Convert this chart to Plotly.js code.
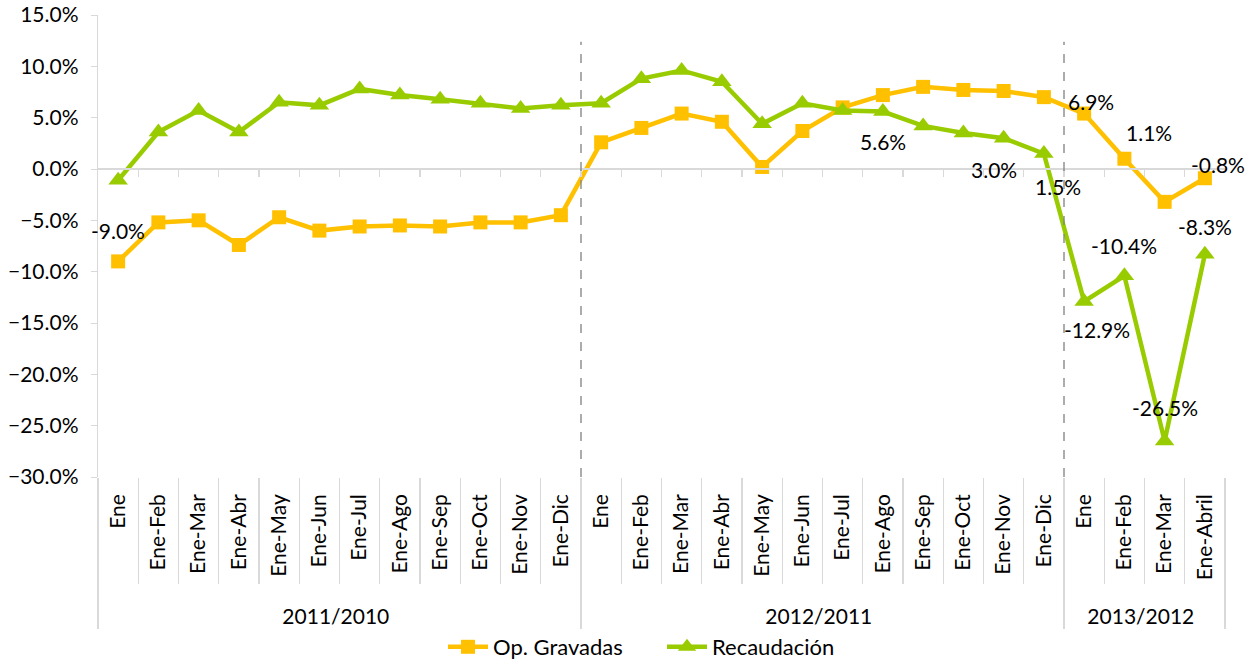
<!DOCTYPE html>
<html>
<head>
<meta charset="utf-8">
<script src="https://cdn.plot.ly/plotly-3.0.1.min.js"></script>
<style>html,body{margin:0;padding:0;background:#fff;}#chart{width:1255px;height:662px;}</style>
</head>
<body>
<div id="chart"></div>
<script>
// ---- data ----
var periods = ["2011/2010","2011/2010","2011/2010","2011/2010","2011/2010","2011/2010","2011/2010","2011/2010","2011/2010","2011/2010","2011/2010","2011/2010",
               "2012/2011","2012/2011","2012/2011","2012/2011","2012/2011","2012/2011","2012/2011","2012/2011","2012/2011","2012/2011","2012/2011","2012/2011",
               "2013/2012","2013/2012","2013/2012","2013/2012"];
var months = ["Ene","Ene-Feb","Ene-Mar","Ene-Abr","Ene-May","Ene-Jun","Ene-Jul","Ene-Ago","Ene-Sep","Ene-Oct","Ene-Nov","Ene-Dic",
              "Ene","Ene-Feb","Ene-Mar","Ene-Abr","Ene-May","Ene-Jun","Ene-Jul","Ene-Ago","Ene-Sep","Ene-Oct","Ene-Nov","Ene-Dic",
              "Ene","Ene-Feb","Ene-Mar","Ene-Abril"];
var opGravadas = [-9.0,-5.2,-5.0,-7.4,-4.7,-6.0,-5.6,-5.5,-5.6,-5.2,-5.2,-4.5,
                  2.6,4.0,5.4,4.6,0.2,3.7,6.0,7.2,8.0,7.7,7.6,7.0,
                  5.4,1.0,-3.2,-0.9];
var recaudacion = [-1.1,3.6,5.7,3.6,6.5,6.2,7.8,7.2,6.8,6.4,5.9,6.2,
                   6.4,8.8,9.6,8.5,4.4,6.4,5.7,5.6,4.2,3.5,3.0,1.5,
                   -12.9,-10.4,-26.5,-8.3];
var opLabels = {0:"-9.0%", 24:"6.9%", 25:"1.1%", 27:"-0.8%"};
var recLabels = {19:"5.6%", 22:"3.0%", 23:"1.5%", 24:"-12.9%", 25:"-10.4%", 26:"-26.5%", 27:"-8.3%"};

// ---- label offsets (px) ----
var opShift = {0:[0,31], 24:[7,12], 25:[25,26], 27:[13,14]};
var recShift = {19:[0,-30], 22:[-10,-31], 23:[14,-33], 24:[13,-28], 25:[0,30], 26:[0,34], 27:[0,28]};

var FONT = "Lato, 'Open Sans', sans-serif";
var FS = 21;
var ORANGE = "#FFC000", GREEN = "#99CC00", GRID = "#D9D9D9";
var n = months.length;
var idx = months.map(function(_, i){ return i; });
// leading padding (rotated labels hang from the axis; padding only lowers the group row)
var monthTicks = months.map(function(m){ return "\u2002\u00A0" + m; });

var traces = [
  {x:[periods, monthTicks], y:opGravadas, name:"Op. Gravadas", type:"scatter", mode:"lines+markers",
   line:{color:ORANGE, width:4.5}, marker:{symbol:"square", size:14, color:ORANGE}},
  {x:[periods, monthTicks], y:recaudacion, name:"Recaudación", type:"scatter", mode:"lines+markers",
   line:{color:GREEN, width:4.5}, marker:{symbol:"triangle-up", size:17, color:GREEN}},
  {x:idx, y:opGravadas, xaxis:"x2", yaxis:"y", mode:"markers", marker:{opacity:0},
   showlegend:false, hoverinfo:"skip"}
];

var annotations = [];
function addLabels(lbls, shifts, vals){
  Object.keys(lbls).forEach(function(k){
    var i = +k;
    annotations.push({xref:"x2", yref:"y", x:i, y:vals[i], text:lbls[k], showarrow:false,
      xshift:shifts[k][0], yshift:shifts[k][1], font:{family:FONT, size:FS, color:"#000"}});
  });
}
addLabels(opLabels, opShift, opGravadas);
addLabels(recLabels, recShift, recaudacion);

var shapes = [];
for (var i = 1; i < n; i++) {
  if (periods[i] !== periods[i-1]) {
    shapes.push({type:"line", xref:"x2", yref:"y", x0:i-0.5, x1:i-0.5, y0:-30, y1:12.4,
                 line:{color:"#808080", width:1.3, dash:"dash"}});
  }
}

var layout = {
  width:1255, height:662,
  margin:{l:98, r:30, t:15, b:185},
  paper_bgcolor:"#fff", plot_bgcolor:"#fff",
  font:{family:FONT, size:FS, color:"#000"},
  showlegend:true,
  legend:{orientation:"h", x:662/1255, xref:"container", xanchor:"center",
          y:(662-647)/662, yref:"container", yanchor:"middle", bgcolor:"rgba(0,0,0,0)",
          font:{family:FONT, size:22, color:"#000"}, itemwidth:40, entrywidth:164, tracegroupgap:0},
  xaxis:{type:"multicategory", range:[-0.5, n-0.5], autorange:false,
         showgrid:false, zeroline:false, showline:false,
         ticks:"outside", tickson:"boundaries", ticklen:106, tickcolor:GRID, tickwidth:1.3,
         tickangle:-90, ticklabelstandoff:12, tickfont:{family:FONT, size:FS, color:"#000"},
         showdividers:true, dividercolor:GRID, dividerwidth:1.3, automargin:false},
  xaxis2:{overlaying:"x", anchor:"free", position:2/3, range:[-0.5, n-0.5], autorange:false,
          showgrid:false, zeroline:false, showline:true, linecolor:GRID, linewidth:2,
          ticks:"outside", tickvals:idx.slice(0, n-1).map(function(i){return i+0.5;}),
          ticklen:7, tickcolor:GRID, tickwidth:1.3, showticklabels:false},
  yaxis:{range:[-30,15], autorange:false, dtick:5, tick0:0, tickformat:".1f", ticksuffix:"%",
         showgrid:false, zeroline:false, showline:true, linecolor:GRID, linewidth:1.3,
         ticks:"outside", ticklen:6, tickcolor:GRID, ticklabelstandoff:8,
         tickfont:{family:FONT, size:FS, color:"#000"}, automargin:false},
  annotations:annotations,
  shapes:shapes
};

Plotly.newPlot("chart", traces, layout, {displayModeBar:false, staticPlot:true});
</script>
</body>
</html>
